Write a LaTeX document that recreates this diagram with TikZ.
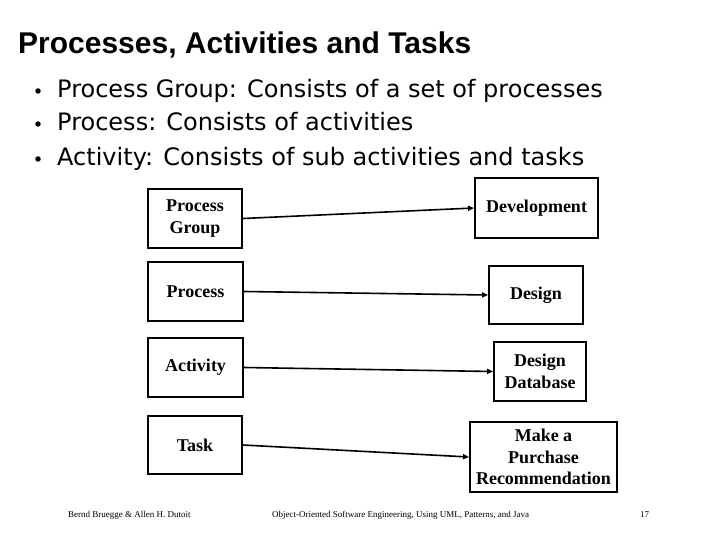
\documentclass[tikz,border=0pt]{standalone}
\usepackage{fontspec}
\setmainfont{Liberation Serif}
\newfontfamily\titlefont{Liberation Sans}
\newfontfamily\bulletfont{DejaVu Sans}
\usetikzlibrary{arrows.meta}
\tikzset{
	level/.style={draw=black, line width=1.9pt, align=center, inner sep=2pt,
		font=\fontsize{18}{21.5}\selectfont\bfseries},
	example/.style={level},
	maps/.style={draw=black, line width=1.6pt, -{Triangle[length=6pt,width=5pt]}},
	bullet/.style={anchor=base west, inner sep=0pt, font=\bulletfont\fontsize{24}{28}\selectfont},
	dot/.style={circle, fill=black, inner sep=0pt, minimum size=5.5pt},
	footer/.style={anchor=base west, inner sep=0pt, font=\fontsize{9}{10}\selectfont},
}

\begin{document}
\begin{tikzpicture}[x=1pt, y=-1pt]
		\useasboundingbox (0, 0) rectangle (720, 540);
		% Title and bullets
		\node [anchor=base west, inner sep=0pt, font=\titlefont\bfseries\fontsize{30}{34}\selectfont] (title) at (18, 54) {Processes, Activities and Tasks};
		\foreach \y/\txt [count=\i] in {98/Process Group: Consists of a set of processes,
			131/Process: Consists of activities,
			166/Activity: Consists of sub activities and tasks} {
			\node [dot] (dot\i) at (38, \y-7) {};
			\node [bullet] (item\i) at (57, \y) {\txt};
		}
		% Levels
		\node [level, minimum width=94pt, minimum height=59pt] (group) at (195, 218.5) {Process\\Group};
		\node [level, minimum width=95pt, minimum height=59pt] (process) at (195.5, 291.5) {Process};
		\node [level, minimum width=95pt, minimum height=59pt] (activity) at (195.5, 367.5) {Activity};
		\node [level, minimum width=94pt, minimum height=58pt] (task) at (195, 445) {Task};
		% Examples
		\node [example, minimum width=123pt, minimum height=60pt] (dev) at (536.5, 208) {Development};
		\node [example, minimum width=94pt, minimum height=58pt] (design) at (536, 295) {Design};
		\node [example, minimum width=92pt, minimum height=59pt] (db) at (540, 371.5) {Design\\Database};
		\node [example, minimum width=147pt, minimum height=70pt] (purchase) at (543.5, 457) {Make a\\Purchase\\Recommendation};
		% Arrows
		\draw [maps] (group.east) -- (dev.west);
		\draw [maps] (process.east) -- (design.west);
		\draw [maps] (activity.east) -- (db.west);
		\draw [maps] (task.east) -- (purchase.west);
		% Footer
		\node [footer] (authors) at (68, 517) {Bernd Bruegge \& Allen H. Dutoit};
		\node [footer] (book) at (272, 517) {Object-Oriented Software Engineering, Using UML, Patterns, and Java};
		\node [footer] (page) at (640, 517) {17};
\end{tikzpicture}
\end{document}
